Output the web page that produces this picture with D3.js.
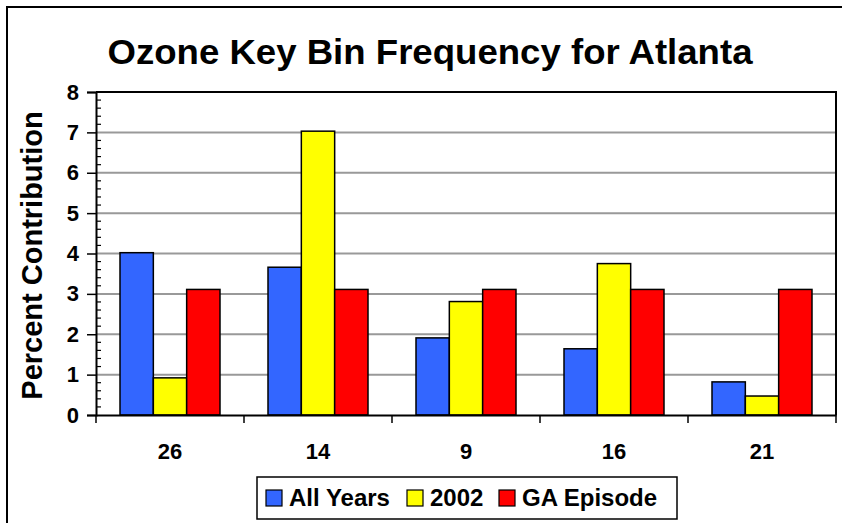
<!DOCTYPE html>
<html>
<head>
<meta charset="utf-8">
<script src="https://cdn.jsdelivr.net/npm/d3@7"></script>
<style>
  body { margin: 0; background: #fff; }
  svg { display: block; font-family: "Liberation Sans", Arial, sans-serif; }
</style>
</head>
<body>
<svg id="chart" width="842" height="523"></svg>
<script>
const categories = ['26', '14', '9', '16', '21'];
const seriesNames = ['All Years', '2002', 'GA Episode'];
const allYears = [4.02, 3.66, 1.91, 1.64, 0.82];
const year2002 = [0.92, 7.03, 2.81, 3.75, 0.47];
const gaEpisode = [3.11, 3.11, 3.11, 3.11, 3.11];
const yTicks = [0, 1, 2, 3, 4, 5, 6, 7, 8];
const colors = ['#3366ff', '#ffff00', '#ff0000'];

const seriesValues = [allYears, year2002, gaEpisode];
const rows = categories.map((c, i) => ({
  cat: c,
  vals: seriesNames.map((s, j) => ({ key: s, value: seriesValues[j][i] }))
}));

const svg = d3.select('#chart');
const margin = { top: 92, right: 6, bottom: 108, left: 96 };
const W = 842, H = 523;

// outer chart frame
svg.append('rect')
  .attr('x', 7).attr('y', 7)
  .attr('width', W + 20).attr('height', H + 20)
  .attr('fill', 'none').attr('stroke', '#000').attr('stroke-width', 2);

const x0 = d3.scaleBand()
  .domain(categories)
  .range([margin.left, W - margin.right])
  .padding(0);

const x1 = d3.scaleBand()
  .domain(seriesNames)
  .range([0, x0.bandwidth()])
  .paddingInner(0)
  .paddingOuter(0.72);

const y = d3.scaleLinear()
  .domain([0, 8])
  .range([H - margin.bottom, margin.top]);

// gridlines
svg.append('g')
  .selectAll('line')
  .data(yTicks.slice(1, -1))
  .join('line')
  .attr('x1', margin.left).attr('x2', W - margin.right)
  .attr('y1', d => y(d)).attr('y2', d => y(d))
  .attr('stroke', '#999').attr('stroke-width', 2);

// bars
svg.append('g')
  .selectAll('g')
  .data(rows)
  .join('g')
  .attr('transform', d => `translate(${x0(d.cat)},0)`)
  .selectAll('rect')
  .data(d => d.vals)
  .join('rect')
  .attr('x', d => x1(d.key))
  .attr('y', d => y(d.value))
  .attr('width', x1.bandwidth())
  .attr('height', d => y(0) - y(d.value))
  .attr('fill', (d, i) => colors[i])
  .attr('stroke', '#000').attr('stroke-width', 1.5);

// plot border (top + right)
svg.append('path')
  .attr('d', `M${margin.left},${y(8)}H${W - margin.right}V${y(0)}`)
  .attr('fill', 'none').attr('stroke', '#000').attr('stroke-width', 2);

// y axis
const yAxis = svg.append('g')
  .attr('transform', `translate(${margin.left},0)`)
  .call(d3.axisLeft(y).tickValues(yTicks).tickSize(9).tickPadding(8).tickFormat(d3.format('d')));
yAxis.select('.domain').attr('stroke-width', 2);
yAxis.selectAll('.tick line').attr('stroke-width', 1.5);
yAxis.selectAll('text')
  .attr('font-size', 22).attr('font-weight', 'bold').attr('fill', '#000')
  .attr('font-family', '"Liberation Sans", Arial, sans-serif');

// minor ticks inside
svg.append('g')
  .selectAll('line')
  .data(d3.range(0, 40).map(i => i * 0.2).filter(v => Math.abs(v - Math.round(v)) > 0.01))
  .join('line')
  .attr('x1', margin.left).attr('x2', margin.left + 5)
  .attr('y1', d => y(d)).attr('y2', d => y(d))
  .attr('stroke', '#000').attr('stroke-width', 1.2);

// x axis
const xAxis = svg.append('g')
  .attr('transform', `translate(0,${y(0)})`)
  .call(d3.axisBottom(x0).tickSize(0).tickPadding(28));
xAxis.select('.domain').attr('stroke-width', 2);
xAxis.selectAll('text')
  .attr('font-size', 22).attr('font-weight', 'bold').attr('fill', '#000')
  .attr('font-family', '"Liberation Sans", Arial, sans-serif');

// category boundary ticks
svg.append('g')
  .selectAll('line')
  .data(categories.map(c => x0(c)).concat([x0.range()[1]]))
  .join('line')
  .attr('x1', d => d).attr('x2', d => d)
  .attr('y1', y(0)).attr('y2', y(0) + 8)
  .attr('stroke', '#000').attr('stroke-width', 1.5);

// title
svg.append('text')
  .attr('x', 430).attr('y', 64)
  .attr('text-anchor', 'middle')
  .attr('font-size', 35).attr('font-weight', 'bold')
  .attr('textLength', 645).attr('lengthAdjust', 'spacingAndGlyphs')
  .text('Ozone Key Bin Frequency for Atlanta');

// y label
svg.append('text')
  .attr('transform', `translate(42,${(y(0) + y(8)) / 2 + 2}) rotate(-90)`)
  .attr('text-anchor', 'middle')
  .attr('font-size', 29).attr('font-weight', 'bold')
  .text('Percent Contribution');

// legend
const legend = svg.append('g');
legend.append('rect')
  .attr('x', 257).attr('y', 477).attr('width', 420).attr('height', 42)
  .attr('fill', '#fff').attr('stroke', '#000').attr('stroke-width', 1.5);
const legendX = [266, 407, 499];
const items = legend.selectAll('g.item')
  .data(seriesNames)
  .join('g')
  .attr('class', 'item')
  .attr('transform', (d, i) => `translate(${legendX[i]},490)`);
items.append('rect')
  .attr('width', 16).attr('height', 16)
  .attr('fill', (d, i) => colors[i])
  .attr('stroke', '#000').attr('stroke-width', 1.2);
items.append('text')
  .attr('x', 23).attr('y', 16)
  .attr('font-size', 24).attr('font-weight', 'bold')
  .text(d => d);
</script>
</body>
</html>
